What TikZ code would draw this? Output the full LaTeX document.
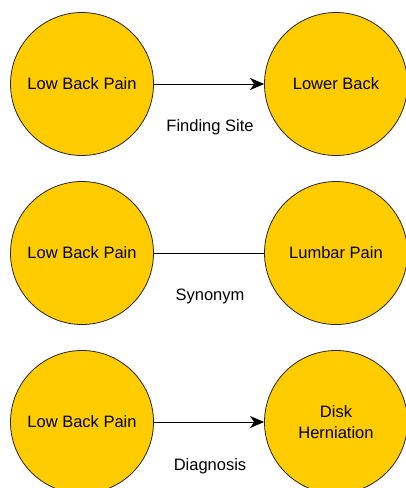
\documentclass[tikz,border=0pt]{standalone}
\usepackage{fontspec}
\setmainfont{Liberation Sans}
\usetikzlibrary{arrows.meta}
\definecolor{conceptfill}{HTML}{FFCC00}
\tikzset{
  concept/.style={circle,draw=black!85,line width=0.8pt,fill=conceptfill,
    minimum size=143pt,inner sep=0pt,align=center,
    font=\fontsize{16.5}{21}\selectfont},
  relation/.style={line width=1pt},
  rellabel/.style={font=\fontsize{16.5}{21}\selectfont}
}
\begin{document}
\begin{tikzpicture}[x=1pt,y=-1pt]
\useasboundingbox (0,0) rectangle (406,488);
\node [concept] (pain1) at (82,84) {Low Back Pain};
\node [concept] (site) at (336,84) {Lower Back};
\node [concept] (pain2) at (82,253) {Low Back Pain};
\node [concept] (lumbar) at (336,253) {Lumbar Pain};
\node [concept] (pain3) at (82,422) {Low Back Pain};
\node [concept] (disk) at (336,422) {Disk\\Herniation};
\draw [relation,-{Stealth[length=14pt,width=12pt,inset=4pt]}] (pain1) -- (site);
\draw [relation] (pain2) -- (lumbar);
\draw [relation,-{Stealth[length=14pt,width=12pt,inset=4pt]}] (pain3) -- (disk);
\node [rellabel] (sitelabel) at (210,127) {Finding Site};
\node [rellabel] (synlabel) at (210,296) {Synonym};
\node [rellabel] (diaglabel) at (210,466) {Diagnosis};
\end{tikzpicture}
\end{document}
